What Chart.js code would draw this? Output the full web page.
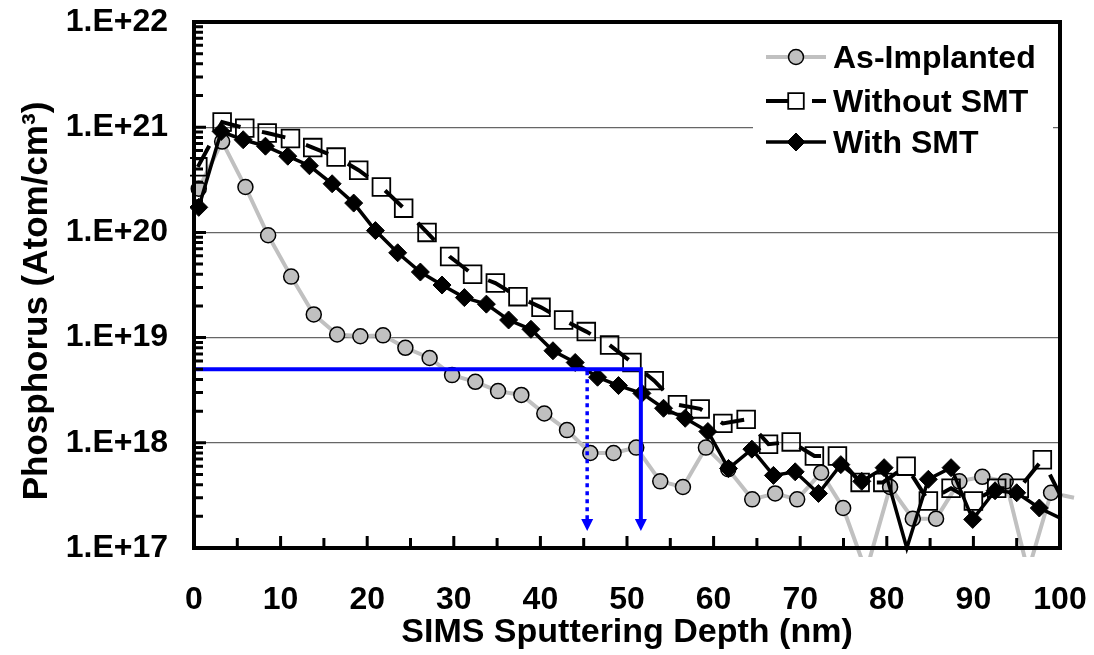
<!DOCTYPE html>
<html>
<head>
<meta charset="utf-8">
<script src="https://cdn.jsdelivr.net/npm/chart.js@4/dist/chart.umd.min.js"></script>
<style>
    html, body { margin: 0; padding: 0; background: #fff; }
    #wrap { width: 1094px; height: 655px; }
</style>
</head>
<body>
<div id="wrap"><canvas id="sims"></canvas></div>
<script>
// SIMS phosphorus depth profiles

// As-Implanted (gray circles)
var asImplantedDepth = [0.55, 3.25, 5.94, 8.56, 11.22, 13.83, 16.53, 19.21, 21.83, 24.41,
    27.21, 29.80, 32.49, 35.11, 37.80, 40.45, 43.07, 45.76, 48.45, 51.07,
    53.84, 56.46, 59.11, 61.69, 64.46, 67.11, 69.65, 72.42, 74.96, 77.61,
    80.38, 83.00, 85.69, 88.38, 91.03, 93.73, 96.31, 98.97, 101.62];
var asImplanted = [2.6e20, 7.3e20, 2.7e20, 9.4e19, 3.8e19, 1.66e19, 1.07e19, 1.03e19, 1.05e19, 8.0e18,
    6.4e18, 4.4e18, 3.8e18, 3.1e18, 2.85e18, 1.9e18, 1.32e18, 8.0e17, 8.0e17, 9.0e17,
    4.3e17, 3.8e17, 9.0e17, 5.6e17, 2.9e17, 3.3e17, 2.9e17, 5.2e17, 2.4e17, 6e16,
    3.8e17, 1.9e17, 1.9e17, 4.3e17, 4.75e17, 4.3e17, 6e16, 3.35e17, 3.0e17];

// Without SMT (open squares, dashed)
var withoutSmtDepth = [0.44, 3.25, 5.86, 8.45, 11.14, 13.71, 16.41, 19.02, 21.64, 24.21,
    26.91, 29.52, 32.17, 34.80, 37.41, 40.07, 42.68, 45.30, 47.99, 50.57,
    53.14, 55.83, 58.45, 61.07, 63.76, 66.34, 68.96, 71.64, 74.30, 76.92,
    79.54, 82.23, 84.80, 87.42, 90.00, 92.69, 95.30, 97.96, 100.58];
var withoutSmt = [4.2e20, 1.12e21, 9.8e20, 8.8e20, 7.8e20, 6.4e20, 5.2e20, 3.9e20, 2.7e20, 1.7e20,
    1.0e20, 5.9e19, 4.0e19, 3.3e19, 2.45e19, 1.94e19, 1.47e19, 1.14e19, 8.5e18, 5.8e18,
    3.9e18, 2.3e18, 2.1e18, 1.53e18, 1.67e18, 9.7e17, 1.02e18, 7.5e17, 7.5e17, 4.2e17,
    4.2e17, 6.0e17, 2.8e17, 3.7e17, 2.8e17, 3.7e17, 3.7e17, 6.9e17, 2.6e17];

// With SMT (black diamonds)
var withSmtDepth = [0.55, 3.14, 5.68, 8.25, 10.83, 13.33, 15.95, 18.44, 20.95, 23.52,
    26.14, 28.64, 31.22, 33.76, 36.33, 38.91, 41.45, 44.02, 46.60, 49.02,
    51.72, 54.22, 56.72, 59.34, 61.72, 64.42, 66.91, 69.42, 72.11, 74.69,
    77.11, 79.69, 82.31, 84.80, 87.42, 89.92, 92.50, 95.00, 97.61, 100.16];
var withSmt = [1.73e20, 9.1e20, 7.6e20, 6.6e20, 5.3e20, 4.3e20, 2.9e20, 1.9e20, 1.04e20, 6.4e19,
    4.2e19, 3.16e19, 2.4e19, 2.08e19, 1.47e19, 1.2e19, 7.5e18, 5.8e18, 4.2e18, 3.5e18,
    2.95e18, 2.13e18, 1.71e18, 1.28e18, 5.7e17, 8.7e17, 4.9e17, 5.3e17, 3.3e17, 6.2e17,
    4.3e17, 5.8e17, 1.0e17, 4.5e17, 5.8e17, 1.87e17, 3.5e17, 3.35e17, 2.4e17, 1.9e17];

var decades = [17, 18, 19, 20, 21, 22];
var xTicks = [0, 10, 20, 30, 40, 50, 60, 70, 80, 90, 100];

// blue guide: 5E18 level and junction depths
var guideLevel = 5e18;
var guideWithSmt = 45.4;
var guideWithoutSmt = 51.6;
var guideArrowEnd = 1.45e17;

var yTitle = 'Phosphorus (Atom/cm³)';
var FONT = "'Liberation Sans', Arial, Helvetica, sans-serif";

function toPoints(xs, ys) {
    var out = [];
    for (var i = 0; i < xs.length; i++) out.push({ x: xs[i], y: ys[i] });
    return out;
}

// hide markers outside the plot box, like Excel
function markerSize(r) {
    return function (ctx) {
        var p = ctx.raw;
        if (!p || p.x > 100 || p.x < 0 || p.y <= 1e17 || p.y > 1e22) return 0;
        return r;
    };
}

var clipBox = { left: 4, top: 4, right: 22, bottom: 9 };

var datasets = [
    {
        label: 'As-Implanted',
        data: toPoints(asImplantedDepth, asImplanted),
        borderColor: '#c0c0c0',
        borderWidth: 4,
        pointStyle: 'circle',
        pointRadius: markerSize(7.5),
        pointBackgroundColor: '#c0c0c0',
        pointBorderColor: '#000',
        pointBorderWidth: 1.5,
        clip: clipBox,
        order: 3
    },
    {
        label: 'Without SMT',
        data: toPoints(withoutSmtDepth, withoutSmt),
        borderColor: '#000',
        borderWidth: 4,
        borderDash: [24, 22],
        pointStyle: 'rect',
        pointRadius: markerSize(12.5),
        pointBackgroundColor: 'rgba(255,255,255,0)',
        pointBorderColor: '#000',
        pointBorderWidth: 1.8,
        clip: clipBox,
        order: 2
    },
    {
        label: 'With SMT',
        data: toPoints(withSmtDepth, withSmt),
        borderColor: '#000',
        borderWidth: 3.5,
        pointStyle: 'rectRot',
        pointRadius: markerSize(9),
        pointBackgroundColor: '#000',
        pointBorderColor: '#000',
        pointBorderWidth: 1,
        clip: clipBox,
        order: 1
    }
];

// plot frame, inner tick marks, blue guide arrows, y title
var framePlugin = {
    id: 'frame',
    afterDatasetsDraw: function (chart) {
        var ctx = chart.ctx, a = chart.chartArea;
        var xs = chart.scales.x, ys = chart.scales.y;
        ctx.save();

        // blue guides
        var gy = ys.getPixelForValue(guideLevel);
        var gx0 = xs.getPixelForValue(0);
        var gx1 = xs.getPixelForValue(guideWithoutSmt);
        var gx2 = xs.getPixelForValue(guideWithSmt);
        var tip = ys.getPixelForValue(guideArrowEnd);
        ctx.strokeStyle = '#0000ff';
        ctx.fillStyle = '#0000ff';
        ctx.lineWidth = 4;
        ctx.beginPath();
        ctx.moveTo(gx0, gy);
        ctx.lineTo(gx1 + 2, gy);
        ctx.moveTo(gx1, gy);
        ctx.lineTo(gx1, tip - 10);
        ctx.stroke();
        ctx.lineWidth = 3.5;
        ctx.setLineDash([4, 4]);
        ctx.beginPath();
        ctx.moveTo(gx2, gy + 2);
        ctx.lineTo(gx2, tip - 10);
        ctx.stroke();
        ctx.setLineDash([]);
        [gx1, gx2].forEach(function (gx) {
            ctx.beginPath();
            ctx.moveTo(gx - 6, tip - 12);
            ctx.lineTo(gx + 6, tip - 12);
            ctx.lineTo(gx, tip);
            ctx.closePath();
            ctx.fill();
        });

        // box
        ctx.strokeStyle = '#000';
        ctx.lineWidth = 4;
        ctx.strokeRect(a.left, a.top, a.right - a.left, a.bottom - a.top);

        // log minor ticks on the y axis (inside)
        ctx.lineWidth = 3;
        ctx.beginPath();
        for (var e = 17; e < 22; e++) {
            for (var m = 1; m <= 9; m++) {
                var py = ys.getPixelForValue(m * Math.pow(10, e));
                var len = m === 1 ? 12 : 9;
                ctx.moveTo(a.left, py);
                ctx.lineTo(a.left + len, py);
            }
        }
        var topY = ys.getPixelForValue(1e22);
        ctx.moveTo(a.left, topY);
        ctx.lineTo(a.left + 12, topY);
        // x ticks every 5 nm (inside)
        for (var d = 5; d < 100; d += 5) {
            var px = xs.getPixelForValue(d);
            ctx.moveTo(px, a.bottom);
            ctx.lineTo(px, a.bottom - (d % 10 === 0 ? 12 : 10));
        }
        ctx.stroke();

        // y axis title
        ctx.translate(37, a.top + (a.bottom - a.top) / 2 + 16);
        ctx.rotate(-Math.PI / 2);
        ctx.fillStyle = '#000';
        ctx.font = 'bold 35px ' + FONT;
        ctx.textAlign = 'center';
        ctx.textBaseline = 'middle';
        ctx.fillText(yTitle, 0, 0);
        ctx.restore();
    }
};

// legend with line + marker samples
var legendPlugin = {
    id: 'sampleLegend',
    afterDraw: function (chart) {
        var ctx = chart.ctx, a = chart.chartArea;
        var bx = a.right - 307, by = a.top + 9;
        ctx.save();
        ctx.fillStyle = '#fff';
        ctx.fillRect(bx, by, 300, 137);
        var rows = [35, 79, 120];
        chart.data.datasets.forEach(function (ds, i) {
            var y = a.top + rows[i];
            var x0 = bx + 13, x1 = bx + 73, xm = bx + 43;
            ctx.strokeStyle = ds.borderColor;
            ctx.lineWidth = ds.borderWidth;
            ctx.setLineDash(ds.borderDash || []);
            ctx.beginPath();
            ctx.moveTo(x0, y);
            ctx.lineTo(x1, y);
            ctx.stroke();
            ctx.setLineDash([]);
            var r = ds.pointStyle === 'rect' ? 11 : (ds.pointStyle === 'circle' ? 7.5 : 9);
            ctx.fillStyle = ds.pointStyle === 'rect' ? '#fff' : ds.pointBackgroundColor;
            ctx.strokeStyle = ds.pointBorderColor;
            ctx.lineWidth = ds.pointBorderWidth;
            Chart.helpers.drawPoint(ctx, {
                pointStyle: ds.pointStyle, radius: r, rotation: 0, borderWidth: ds.pointBorderWidth
            }, xm, y);
            ctx.fillStyle = '#000';
            ctx.font = 'bold 32px ' + FONT;
            ctx.textBaseline = 'middle';
            ctx.textAlign = 'left';
            ctx.fillText(ds.label, bx + 80, y + 2);
        });
        ctx.restore();
    }
};

new Chart(document.getElementById('sims'), {
    type: 'line',
    data: { datasets: datasets },
    plugins: [framePlugin, legendPlugin],
    options: {
        responsive: true,
        maintainAspectRatio: false,
        animation: false,
        layout: { padding: { left: 0, right: 34, top: 22, bottom: 0 } },
        plugins: {
            legend: { display: false },
            tooltip: { enabled: false }
        },
        scales: {
            x: {
                type: 'linear',
                min: 0,
                max: 100,
                afterBuildTicks: function (scale) {
                    scale.ticks = xTicks.map(function (v) { return { value: v }; });
                },
                afterFit: function (scale) {
                    scale.height = 107;
                    scale.paddingLeft = 0;
                    scale.paddingRight = 0;
                },
                ticks: {
                    color: '#000',
                    padding: 33,
                    maxRotation: 0,
                    font: { family: FONT, size: 32, weight: 'bold' }
                },
                grid: { display: false, drawTicks: false },
                border: { display: false },
                title: {
                    display: true,
                    text: 'SIMS Sputtering Depth (nm)',
                    color: '#000',
                    padding: { top: 0, bottom: 2 },
                    font: { family: FONT, size: 34, weight: 'bold' }
                }
            },
            y: {
                type: 'logarithmic',
                min: 1e17,
                max: 1e22,
                afterBuildTicks: function (scale) {
                    scale.ticks = decades.map(function (e) { return { value: Math.pow(10, e) }; });
                },
                afterFit: function (scale) {
                    scale.width = 194;
                    scale.paddingTop = 0;
                    scale.paddingBottom = 0;
                },
                ticks: {
                    color: '#000',
                    padding: 26,
                    font: { family: FONT, size: 32, weight: 'bold' },
                    callback: function (v) {
                        return '1.E+' + Math.round(Math.log10(v));
                    }
                },
                grid: { color: '#666', lineWidth: 1.3, drawTicks: false },
                border: { display: false }
            }
        }
    }
});
</script>
</body>
</html>
